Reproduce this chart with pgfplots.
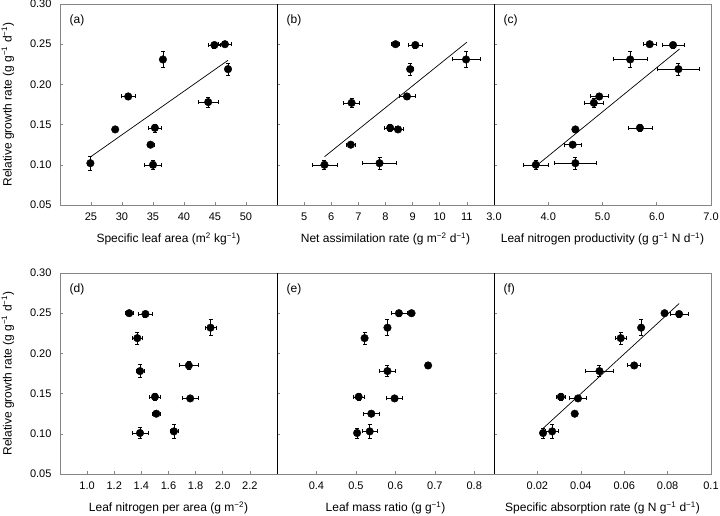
\documentclass[border=0pt]{standalone}
\usepackage{fontspec}
\setmainfont{Liberation Sans}
\usepackage{pgfplots}
\pgfplotsset{compat=1.18}
\definecolor{framegray}{rgb}{0.52,0.52,0.52}
\newcommand{\sups}[1]{\textsuperscript{#1}}
\pgfplotsset{
  panel/.style={
    scale only axis, width=217pt, height=201pt,
    anchor=south west, clip=false,
    ymin=0.05, ymax=0.30,
    ytick={0.05,0.1,0.15,0.2,0.25,0.3},
    yticklabels={},
    tick align=inside, xtick pos=bottom, ytick pos=left,
    major tick length=3pt,
    tick style={draw=framegray, line width=0.6pt},
    axis line style={draw=framegray, line width=0.8pt},
    tick label style={font=\fontsize{11}{13}\selectfont},
    label style={font=\fontsize{12}{14}\selectfont},
    xticklabel style={yshift=-4pt},
    yticklabel style={xshift=-5pt},
    xlabel style={at={(axis description cs:0.5,-0.17)}, anchor=center},
  },
  withy/.style={
    yticklabels={0.05,0.10,0.15,0.20,0.25,0.30},
    ylabel={Relative growth rate (g g\sups{−1} d\sups{−1})},
    ylabel style={at={(axis description cs:-0.24,0.5)}, anchor=center},
  },
  pts/.style={
    only marks, mark=*, mark size=3.8pt, black, mark options={fill=black, draw=black},
    error bars/.cd, x dir=both, x explicit, y dir=both, y explicit,
    error bar style={line width=0.5pt, black},
    error mark options={rotate=90, mark size=2pt, line width=0.5pt, black},
  },
  fit/.style={black, line width=0.7pt, no marks},
}
\newcommand{\plabel}[1]{\node[anchor=west, font=\fontsize{12}{14}\selectfont] at (rel axis cs:0.028,0.92) {(#1)};}
\newcommand{\leftblack}{\draw[black, line width=0.9pt] (rel axis cs:0,0) -- (rel axis cs:0,1);}
\begin{document}
\begin{tikzpicture}
\useasboundingbox (0pt,0pt) rectangle (720pt,515pt);
% (a)
\begin{axis}[panel, withy, at={(60pt,310pt)}, xmin=20, xmax=55,
  xtick={25,30,35,40,45,50}, xticklabels={25,30,35,40,45,50},
  xlabel={Specific leaf area (m\sups{2} kg\sups{−1})}]
\addplot[fit] coordinates {(24.95,0.110) (47.1,0.230)};
\addplot[pts] coordinates {
(24.9,0.102) +- (0,0.009)
(28.9,0.144) +- (0,0)
(31.0,0.185) +- (1.1,0.004)
(36.6,0.231) +- (0.3,0.010)
(35.3,0.146) +- (1.0,0.005)
(34.6,0.125) +- (0.6,0)
(35.0,0.100) +- (1.4,0.006)
(43.9,0.178) +- (1.6,0.006)
(44.9,0.249) +- (1.0,0.004)
(46.6,0.250) +- (1.1,0)
(47.1,0.219) +- (0,0.007)
};
\plabel{a}
\end{axis}
% (b)
\begin{axis}[panel, at={(277pt,310pt)}, xmin=4, xmax=12,
  xtick={5,6,7,8,9,10,11}, xticklabels={5,6,7,8,9,10,11},
  xlabel={Net assimilation rate (g m\sups{−2} d\sups{−1})}]
\addplot[fit] coordinates {(5.75,0.110) (11.0,0.2525)};
\addplot[pts] coordinates {
(5.75,0.100) +- (0.46,0.006)
(6.72,0.125) +- (0.15,0)
(6.75,0.177) +- (0.30,0.006)
(7.78,0.102) +- (0.63,0.008)
(8.17,0.146) +- (0.2,0.004)
(8.46,0.144) +- (0.2,0)
(8.37,0.250) +- (0.15,0)
(8.91,0.219) +- (0.1,0.007)
(8.79,0.185) +- (0.3,0.004)
(9.10,0.249) +- (0.25,0.004)
(10.97,0.231) +- (0.52,0.010)
};
\plabel{b}
\leftblack
\end{axis}
% (c)
\begin{axis}[panel, at={(494pt,310pt)}, xmin=3, xmax=7,
  xtick={3,4,5,6,7}, xticklabels={3.0,4.0,5.0,6.0,7.0},
  xlabel={Leaf nitrogen productivity (g g\sups{−1} N d\sups{−1})}]
\addplot[fit] coordinates {(3.82,0.101) (6.42,0.244)};
\addplot[pts] coordinates {
(3.77,0.100) +- (0.23,0.006)
(4.45,0.125) +- (0.15,0)
(4.50,0.144) +- (0,0)
(4.50,0.102) +- (0.39,0.008)
(4.84,0.177) +- (0.17,0.006)
(4.94,0.185) +- (0.17,0.004)
(5.51,0.231) +- (0.32,0.010)
(5.87,0.250) +- (0.12,0)
(6.30,0.249) +- (0.20,0.004)
(6.40,0.219) +- (0.39,0.007)
(5.69,0.146) +- (0.22,0.004)
};
\plabel{c}
\leftblack
\end{axis}
% (d)
\begin{axis}[panel, withy, at={(60pt,41pt)}, xmin=0.8, xmax=2.4,
  xtick={1.0,1.2,1.4,1.6,1.8,2.0,2.2}, xticklabels={1.0,1.2,1.4,1.6,1.8,2.0,2.2},
  xlabel={Leaf nitrogen per area (g m\sups{−2})}]
\addplot[pts] coordinates {
(1.31,0.250) +- (0.03,0)
(1.43,0.249) +- (0.05,0.004)
(1.37,0.219) +- (0.04,0.007)
(1.39,0.178) +- (0.03,0.008)
(1.50,0.146) +- (0.04,0.004)
(1.51,0.125) +- (0.03,0)
(1.39,0.101) +- (0.06,0.007)
(1.64,0.103) +- (0.03,0.009)
(1.75,0.185) +- (0.07,0.005)
(1.76,0.144) +- (0.06,0)
(1.91,0.232) +- (0.04,0.010)
};
\plabel{d}
\end{axis}
% (e)
\begin{axis}[panel, at={(277pt,41pt)}, xmin=0.3, xmax=0.85,
  xtick={0.4,0.5,0.6,0.7,0.8}, xticklabels={0.4,0.5,0.6,0.7,0.8},
  xlabel={Leaf mass ratio (g g\sups{−1})}]
\addplot[pts] coordinates {
(0.503,0.101) +- (0,0.006)
(0.535,0.103) +- (0.02,0.009)
(0.539,0.125) +- (0.02,0)
(0.507,0.146) +- (0.015,0.004)
(0.598,0.144) +- (0.02,0)
(0.580,0.178) +- (0.02,0.007)
(0.522,0.219) +- (0,0.007)
(0.580,0.232) +- (0,0.010)
(0.609,0.250) +- (0.02,0.004)
(0.641,0.250) +- (0,0)
(0.683,0.185) +- (0,0.004)
};
\plabel{e}
\leftblack
\end{axis}
% (f)
\begin{axis}[panel, at={(494pt,41pt)}, xmin=0, xmax=0.1,
  xtick={0.02,0.04,0.06,0.08,0.1}, xticklabels={0.02,0.04,0.06,0.08,0.1},
  xlabel={Specific absorption rate (g N g\sups{−1} d\sups{−1})}]
\addplot[fit] coordinates {(0.0223,0.106) (0.0853,0.262)};
\addplot[pts] coordinates {
(0.0226,0.101) +- (0,0.006)
(0.0268,0.103) +- (0.003,0.009)
(0.0308,0.146) +- (0.002,0.004)
(0.0372,0.125) +- (0.001,0)
(0.0387,0.144) +- (0.004,0)
(0.0486,0.178) +- (0.0065,0.007)
(0.0584,0.219) +- (0.0025,0.007)
(0.0646,0.185) +- (0.003,0.004)
(0.0678,0.232) +- (0,0.010)
(0.0786,0.250) +- (0,0)
(0.0853,0.249) +- (0.004,0.004)
};
\plabel{f}
\leftblack
\end{axis}
\end{tikzpicture}
\end{document}
